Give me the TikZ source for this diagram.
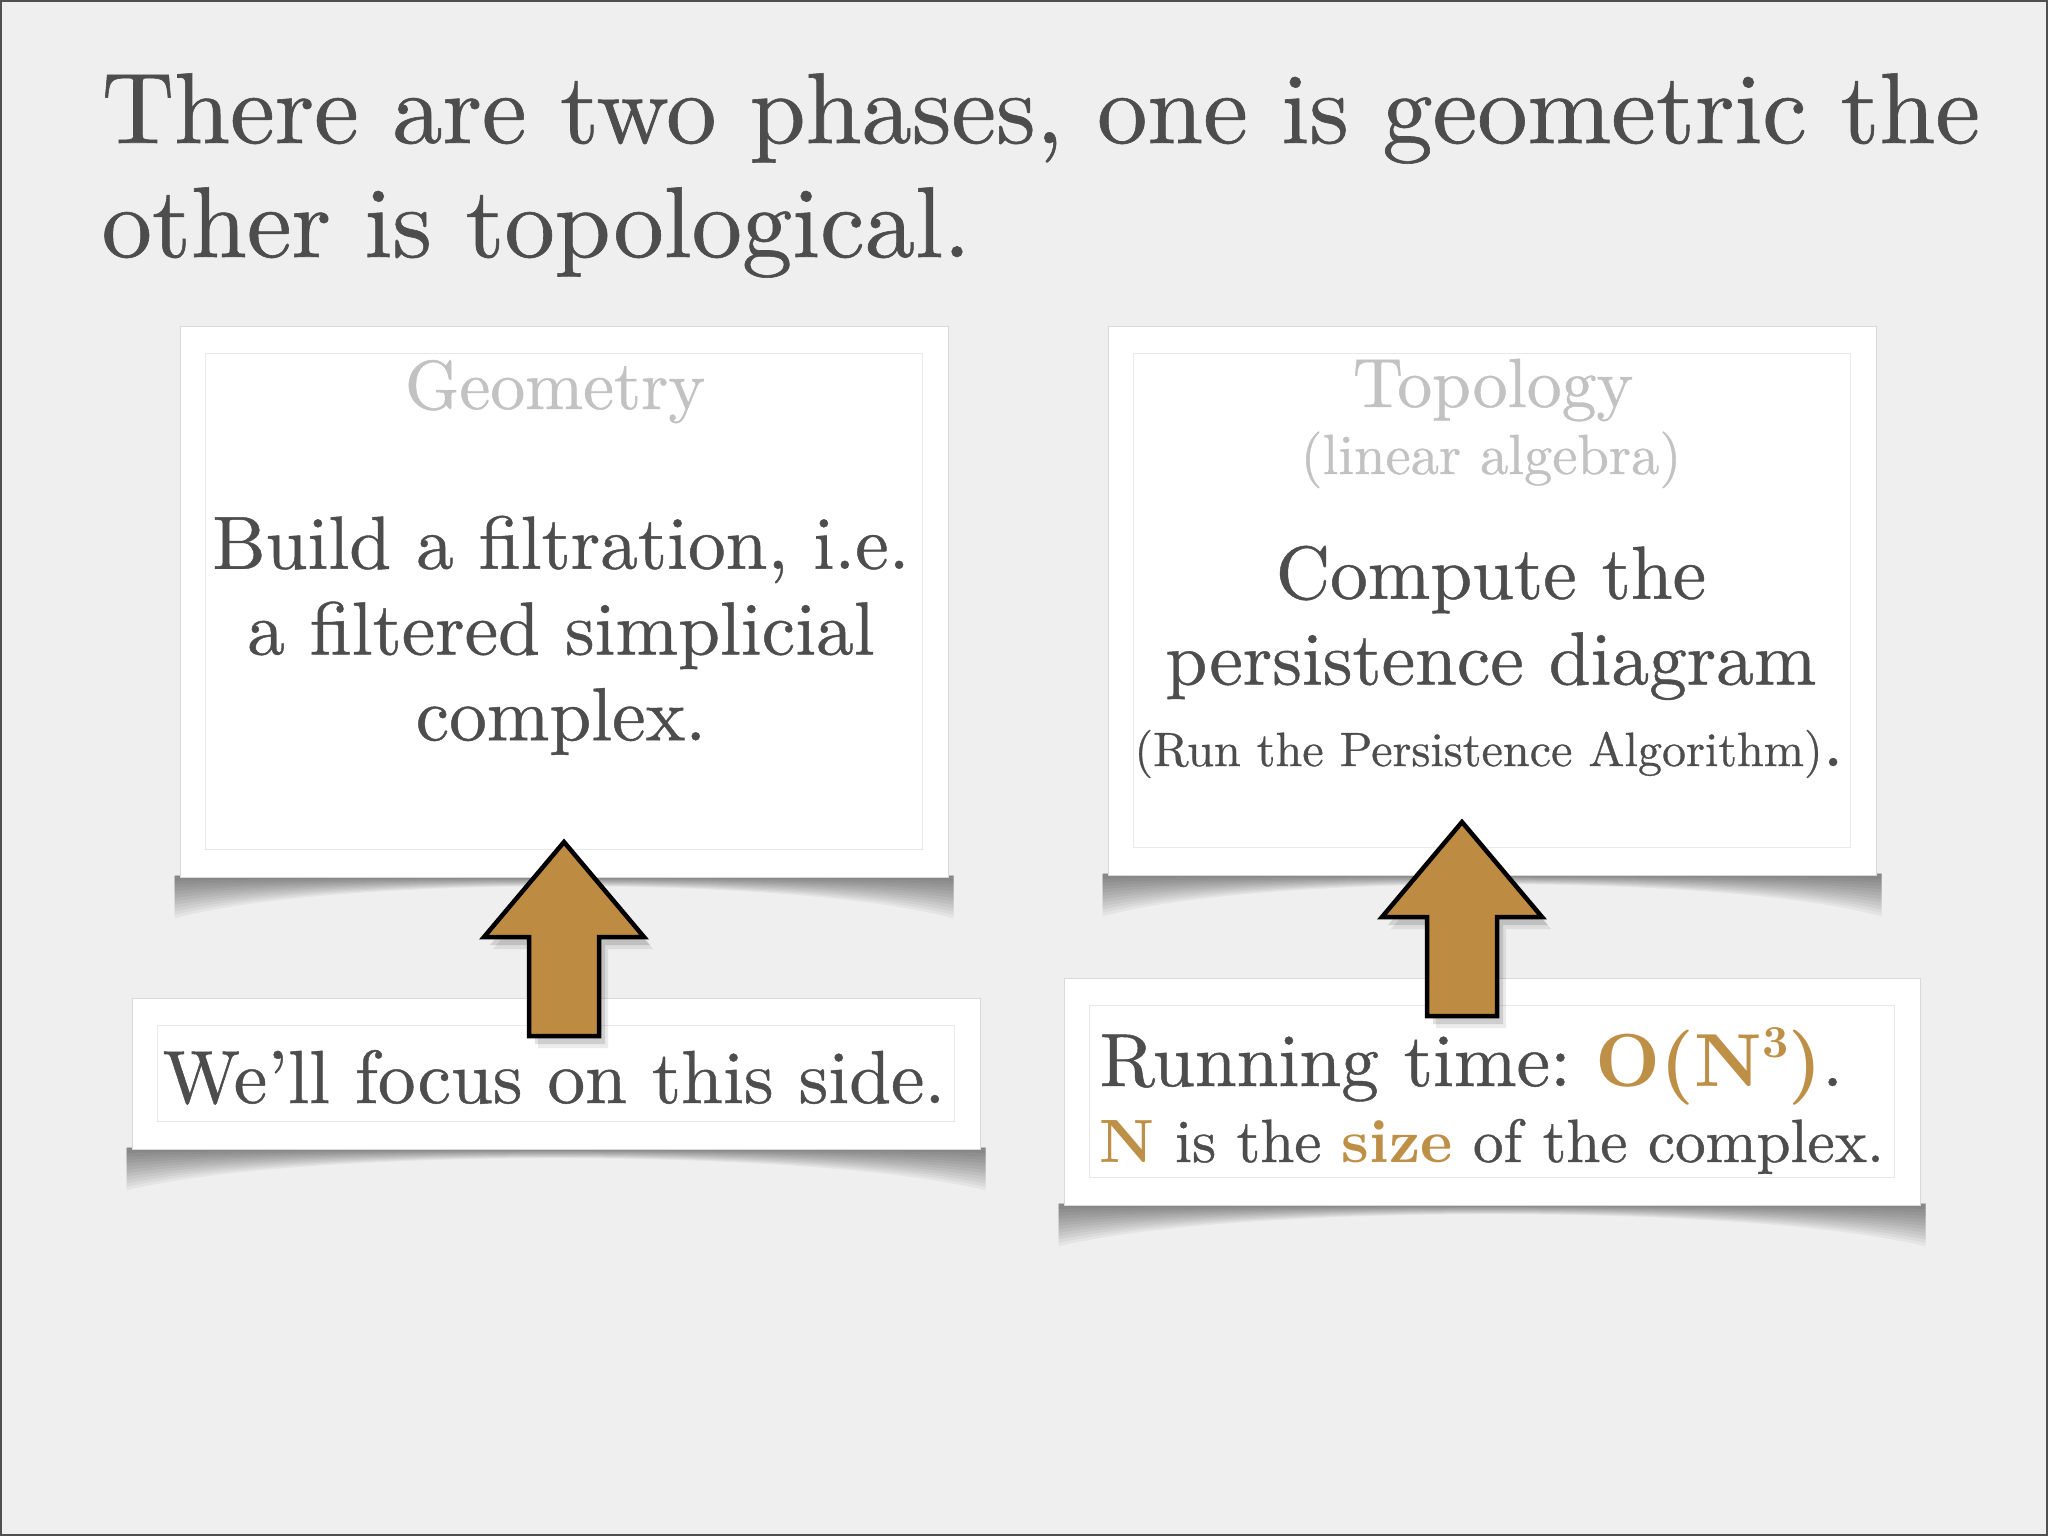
\documentclass[tikz,border=0pt]{standalone}
\usepackage{fontspec}
\setmainfont{lmroman10-regular.otf}[BoldFont=lmroman10-bold.otf, UprightFeatures={FakeBold=0.6}]
\usepackage{xcolor}
\usetikzlibrary{calc}

\definecolor{slidebg}{RGB}{239,239,240}
\definecolor{textgray}{RGB}{77,77,77}
\definecolor{headgray}{RGB}{194,194,194}
\definecolor{framegray}{RGB}{232,232,232}
\definecolor{bordergray}{RGB}{80,80,80}
\definecolor{arrowgold}{RGB}{189,140,66}
\definecolor{textgold}{RGB}{190,143,70}

\pgfdeclarelayer{background}
\pgfsetlayers{background,main}

\frenchspacing

\begin{document}
\begin{tikzpicture}[x=0.1mm, y=-0.1mm]
  \tikzstyle{card} = [fill=white, draw=gray!30, line width=0.1mm, inner sep=0pt]
  \tikzstyle{innerframe} = [draw=framegray, line width=0.15mm]
  \tikzstyle{slidetitle} = [inner sep=0pt, text=textgray, font=\fontsize{28.6}{32.4}\selectfont]
  \tikzstyle{head} = [inner sep=0pt, anchor=base, text=headgray, font=\fontsize{19.8}{24}\selectfont]
  \tikzstyle{body} = [inner sep=0pt, text=textgray, align=center, font=\fontsize{21.4}{24.4}\selectfont]
  \tikzstyle{goldarrow} = [fill=arrowgold, draw=black, line width=0.45mm, line join=miter]

  \useasboundingbox (0,0) rectangle (2048,1536);

  % title
  \node[slidetitle, anchor=base west] (title1) at (101,143) {There are two phases, one is geometric the};
  \node[slidetitle, anchor=base west] (title2) at (101,257) {other is topological.};

  % the four cards
  \node[card, minimum width=76.8mm, minimum height=55.1mm] (geo) at (564,601.5) {};
  \node[card, minimum width=76.8mm, minimum height=54.9mm] (topo) at (1492,600.5) {};
  \node[card, minimum width=84.8mm, minimum height=15.1mm] (focus) at (556,1073.5) {};
  \node[card, minimum width=85.6mm, minimum height=22.7mm] (runtime) at (1492,1091.5) {};

  \foreach \card in {geo,topo,focus,runtime}
    \draw[innerframe] ($(\card.north west)+(26,28)$) rectangle ($(\card.south east)+(-26,-28)$);

  % curled shadows under the cards
  \begin{pgfonlayer}{background}
    \fill[slidebg] (0,0) rectangle (2048,1536);
    \foreach \card in {geo,topo,focus,runtime} {
      \foreach \i in {1,...,12} {
        \pgfmathsetmacro{\d}{3.4*(13-\i)}
        \fill[black, opacity=0.045]
          ($(\card.south west)+(-5,-2)$) -- ($(\card.south west)+(-5,\d)$)
          .. controls ($(\card.south west)!0.2!(\card.south east)+(0,-0.05*\d)$)
          and ($(\card.south west)!0.8!(\card.south east)+(0,-0.05*\d)$) ..
          ($(\card.south east)+(5,\d)$) -- ($(\card.south east)+(5,-2)$) -- cycle;
      }
    }
  \end{pgfonlayer}

  % geometry card
  \node[head] (geohead) at (555,409) {Geometry};
  \node[body, anchor=north] (geotext) at (561,515) {Build a filtration, i.e.\\a filtered simplicial\\complex.};

  % topology card
  \node[head] (topohead) at (1493,407) {Topology};
  \node[head, font=\fontsize{16.1}{19}\selectfont] (toposub) at (1491,474) {(linear algebra)};
  \node[body, anchor=north] (topotext) at (1491,545) {Compute the\\persistence diagram};
  \node[body, anchor=base] (algo) at (1489,766) {{\fontsize{13.7}{16}\selectfont(Run the Persistence Algorithm)}.};

  % lower cards
  \node[body, anchor=base] (focustext) at (554,1103) {We'll focus on this side.};
  \node[body, anchor=base west] (runline) at (1099,1086)
    {Running time: \textcolor{textgold}{\textbf{O(N\raisebox{8.2pt}{\fontsize{13}{13}\selectfont 3})}}.};
  \node[body, anchor=base west, font=\fontsize{17.4}{20}\selectfont] (sizeline) at (1099,1162)
    {\textcolor{textgold}{\textbf{N}} is the \textcolor{textgold}{\textbf{size}} of the complex.};

  % block arrows
  \foreach \tipx/\tipy in {564/842, 1462/822} {
    \begin{scope}[shift={(\tipx,\tipy)}]
      \fill[black, opacity=0.12] (6,8) -- (86,103) -- (41,103) -- (41,202) -- (-29,202) -- (-29,103) -- (-74,103) -- cycle;
      \fill[black, opacity=0.08] (9,12) -- (89,107) -- (44,107) -- (44,206) -- (-26,206) -- (-26,107) -- (-71,107) -- cycle;
      \filldraw[goldarrow] (0,0) -- (80,95) -- (35,95) -- (35,194) -- (-35,194) -- (-35,95) -- (-80,95) -- cycle;
    \end{scope}
  }

  \draw[bordergray, line width=0.25mm] (1,1) rectangle (2047,1535);
\end{tikzpicture}
\end{document}
